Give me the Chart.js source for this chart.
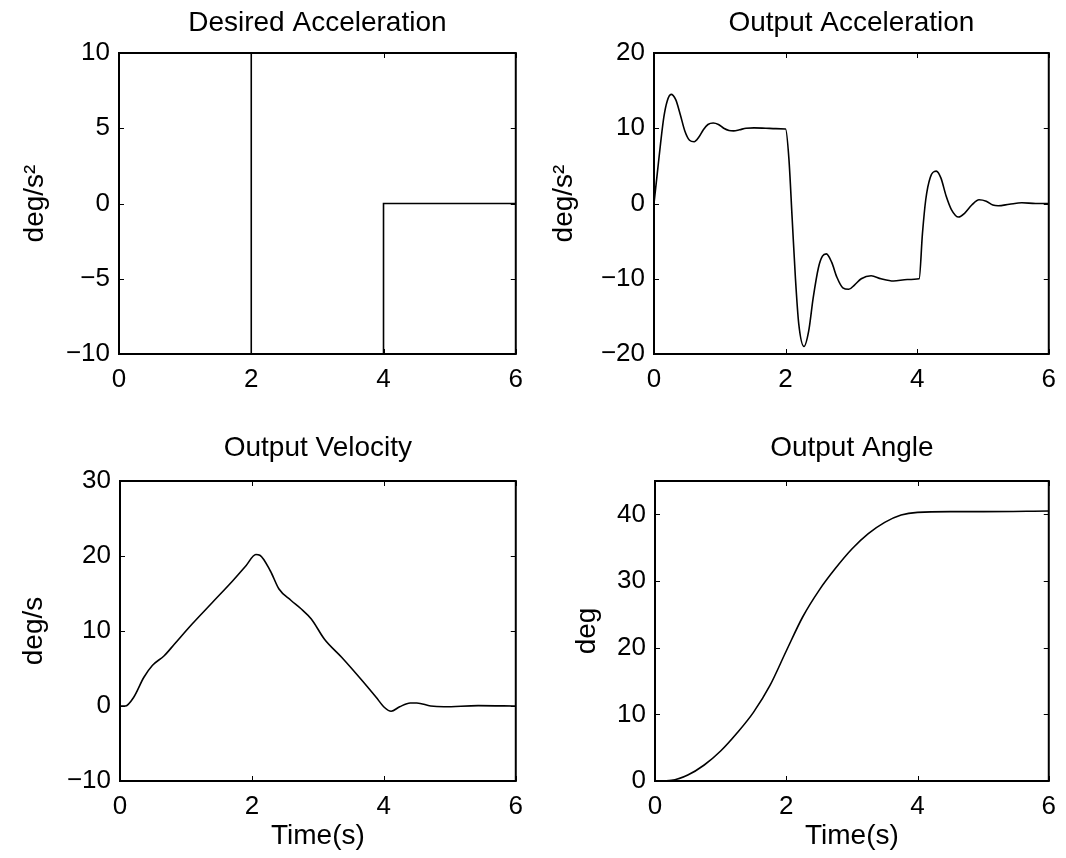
<!DOCTYPE html>
<html>
<head>
<meta charset="utf-8">
<script src="https://cdn.jsdelivr.net/npm/chart.js@4/dist/chart.umd.min.js"></script>
<style>
  html, body { margin: 0; padding: 0; background: #fff; }
  body { width: 1066px; height: 858px; position: relative; overflow: hidden; }
  canvas { position: absolute; }
</style>
</head>
<body>
<canvas id="desAcc" width="533" height="429" style="left:0;top:0"></canvas>
<canvas id="outAcc" width="533" height="429" style="left:533px;top:0"></canvas>
<canvas id="outVel" width="533" height="429" style="left:0;top:429px"></canvas>
<canvas id="outAng" width="533" height="429" style="left:533px;top:429px"></canvas>
<script>
// desired acceleration (step profile)
const desTime = [0, 2, 2, 4, 4, 6];
const desAccel = [10, 10, -10, -10, 0, 0];

// output acceleration
const accTime = [0, 0.05, 0.1, 0.15, 0.2, 0.26, 0.33, 0.4, 0.47, 0.54, 0.61, 0.68, 0.75, 0.82, 0.9, 0.98,
  1.06, 1.14, 1.21, 1.3, 1.4, 1.52, 1.7, 1.85, 2.0, 2.05, 2.1, 2.15, 2.2, 2.28, 2.35, 2.42, 2.5, 2.56,
  2.62, 2.7, 2.78, 2.87, 2.96, 3.05, 3.15, 3.3, 3.45, 3.64, 3.85, 4.03, 4.08, 4.13, 4.2, 4.29, 4.36,
  4.44, 4.52, 4.63, 4.72, 4.83, 4.94, 5.05, 5.15, 5.23, 5.4, 5.59, 5.8, 6.0];
const accOut = [0, 4, 8, 11.5, 13.6, 14.5, 13.8, 11.8, 9.6, 8.4, 8.2, 8.8, 9.8, 10.5, 10.7, 10.5,
  10.0, 9.7, 9.65, 9.8, 10.0, 10.05, 10.0, 9.95, 9.9, 6, -2, -10, -16, -19.0, -17, -12.5, -8.5, -7.0,
  -6.7, -7.8, -9.8, -11.2, -11.4, -10.8, -10, -9.6, -10.0, -10.3, -10.1, -10.0, -4, 0.5, 3.5, 4.3, 3.4,
  1.0, -0.8, -1.8, -1.3, -0.2, 0.5, 0.3, -0.2, -0.3, -0.1, 0.1, 0.0, 0.0];

// output velocity
const velTime = [0, 0.08, 0.21, 0.36, 0.49, 0.67, 0.83, 1.09, 1.4, 1.71, 1.91, 2.06, 2.12, 2.28, 2.41,
  2.59, 2.74, 2.9, 3.1, 3.36, 3.67, 3.88, 4.01, 4.11, 4.24, 4.4, 4.5, 4.71, 4.91, 5.43, 6.0];
const velOut = [0, 0, 1.2, 3.8, 5.4, 6.7, 8.3, 10.9, 13.8, 16.7, 18.7, 20.2, 20.1, 18.0, 15.6,
  14.1, 13.0, 11.6, 8.9, 6.5, 3.4, 1.2, -0.2, -0.7, -0.1, 0.4, 0.4, 0, -0.1, 0.05, 0];

// output angle
const angTime = [0, 0.25, 0.5, 0.75, 1.0, 1.25, 1.5, 1.75, 2.0, 2.25, 2.5, 2.75, 3.0, 3.25, 3.5, 3.75, 4.0, 4.5, 5.0, 6.0];
const angOut = [0, 0.1, 0.9, 2.4, 4.5, 7.2, 10.3, 14.3, 19.5, 24.6, 28.6, 31.9, 34.8, 37.1, 38.8, 39.9, 40.3, 40.4, 40.4, 40.5];

const xTicks = [0, 2, 4, 6];

Chart.defaults.color = '#000';
Chart.defaults.font.family = '"Liberation Sans", Arial, Helvetica, sans-serif';

// box round the plot with small inward ticks, like the old matlab axes
const boxPlugin = {
  id: 'box',
  afterLayout(chart) {
    // centre the title over the plot area, not the whole canvas
    if (chart.titleBlock) {
      chart.titleBlock.left = chart.chartArea.left;
      chart.titleBlock.right = chart.chartArea.right;
    }
  },
  afterDraw(chart) {
    const ctx = chart.ctx;
    const a = chart.chartArea;
    const sx = chart.scales.x, sy = chart.scales.y;
    const len = 5;
    ctx.save();
    ctx.strokeStyle = '#000';
    ctx.lineWidth = 1;
    ctx.beginPath();
    sx.ticks.forEach(function (t) {
      const px = Math.round(sx.getPixelForValue(t.value)) + 0.5;
      ctx.moveTo(px, a.bottom); ctx.lineTo(px, a.bottom - len);
      ctx.moveTo(px, a.top); ctx.lineTo(px, a.top + len);
    });
    sy.ticks.forEach(function (t) {
      const py = Math.round(sy.getPixelForValue(t.value)) + 0.5;
      ctx.moveTo(a.left, py); ctx.lineTo(a.left + len, py);
      ctx.moveTo(a.right, py); ctx.lineTo(a.right - len, py);
    });
    ctx.stroke();
    ctx.lineWidth = 2;
    ctx.strokeRect(a.left, a.top, a.right - a.left, a.bottom - a.top);
    ctx.restore();
  }
};

function toPoints(xs, ys) {
  return xs.map(function (x, i) { return {x: x, y: ys[i]}; });
}

function makeChart(id, o) {
  let context = document.querySelector('#' + id).getContext('2d');
  return new Chart(context, {
    type: 'line',
    data: {
      datasets: [{
        data: toPoints(o.xs, o.ys),
        borderColor: '#000',
        borderWidth: 1.6,
        pointRadius: 0,
        fill: false,
        cubicInterpolationMode: o.smooth ? 'monotone' : 'default',
        tension: 0
      }]
    },
    options: {
      responsive: false,
      animation: false,
      devicePixelRatio: 1,
      layout: { padding: { left: 0, right: o.padRight, top: 0, bottom: 0 } },
      plugins: {
        legend: { display: false },
        tooltip: { enabled: false },
        title: {
          display: true,
          text: o.title,
          font: { size: 28, weight: 'normal' },
          padding: { top: o.titleTop, bottom: o.titleBottom }
        }
      },
      scales: {
        x: {
          type: 'linear',
          min: 0, max: 6,
          afterBuildTicks: function (s) { s.ticks = xTicks.map(function (v) { return {value: v}; }); },
          afterFit: function (s) { s.height = o.xHeight; },
          grid: { display: false, drawTicks: false },
          border: { display: false },
          ticks: { font: { size: 26 }, padding: 10, maxRotation: 0 },
          title: {
            display: !!o.xTitle,
            text: o.xTitle || '',
            font: { size: 28 },
            padding: { top: 0, bottom: 5 }
          }
        },
        y: {
          min: o.yMin, max: o.yMax,
          afterFit: function (s) { s.width = o.yWidth; },
          grid: { display: false, drawTicks: false },
          border: { display: false },
          ticks: { font: { size: 26 }, padding: 9, stepSize: o.yStep, includeBounds: false,
            callback: function (v) { return v < 0 ? '\u2212' + Math.abs(v) : String(v); } },
          title: {
            display: true,
            text: o.yTitle,
            font: { size: 28 },
            padding: { top: o.yTitlePad, bottom: 0 }
          }
        }
      }
    },
    plugins: [boxPlugin]
  });
}

window.addEventListener('load', function () {
  makeChart('desAcc', {
    xs: desTime, ys: desAccel, smooth: false,
    title: 'Desired Acceleration', titleTop: 6, titleBottom: 13.4,
    yTitle: 'deg/s\u00b2', yTitlePad: 18, yWidth: 119, padRight: 14, xHeight: 75,
    yMin: -10, yMax: 10, yStep: 5
  });
  makeChart('outAcc', {
    xs: accTime, ys: accOut, smooth: true,
    title: 'Output Acceleration', titleTop: 6, titleBottom: 13.4,
    yTitle: 'deg/s\u00b2', yTitlePad: 14, yWidth: 121, padRight: 12, xHeight: 75,
    yMin: -20, yMax: 20, yStep: 10
  });
  makeChart('outVel', {
    xs: velTime, ys: velOut, smooth: true,
    title: 'Output Velocity', titleTop: 2, titleBottom: 16.4,
    yTitle: 'deg/s', yTitlePad: 17, yWidth: 120, padRight: 13, xHeight: 77, xTitle: 'Time(s)',
    yMin: -10, yMax: 30, yStep: 10
  });
  makeChart('outAng', {
    xs: angTime, ys: angOut, smooth: true,
    title: 'Output Angle', titleTop: 2, titleBottom: 16.4,
    yTitle: 'deg', yTitlePad: 37, yWidth: 122, padRight: 11, xHeight: 77, xTitle: 'Time(s)',
    yMin: 0, yMax: 45, yStep: 10
  });
});
</script>
</body>
</html>
